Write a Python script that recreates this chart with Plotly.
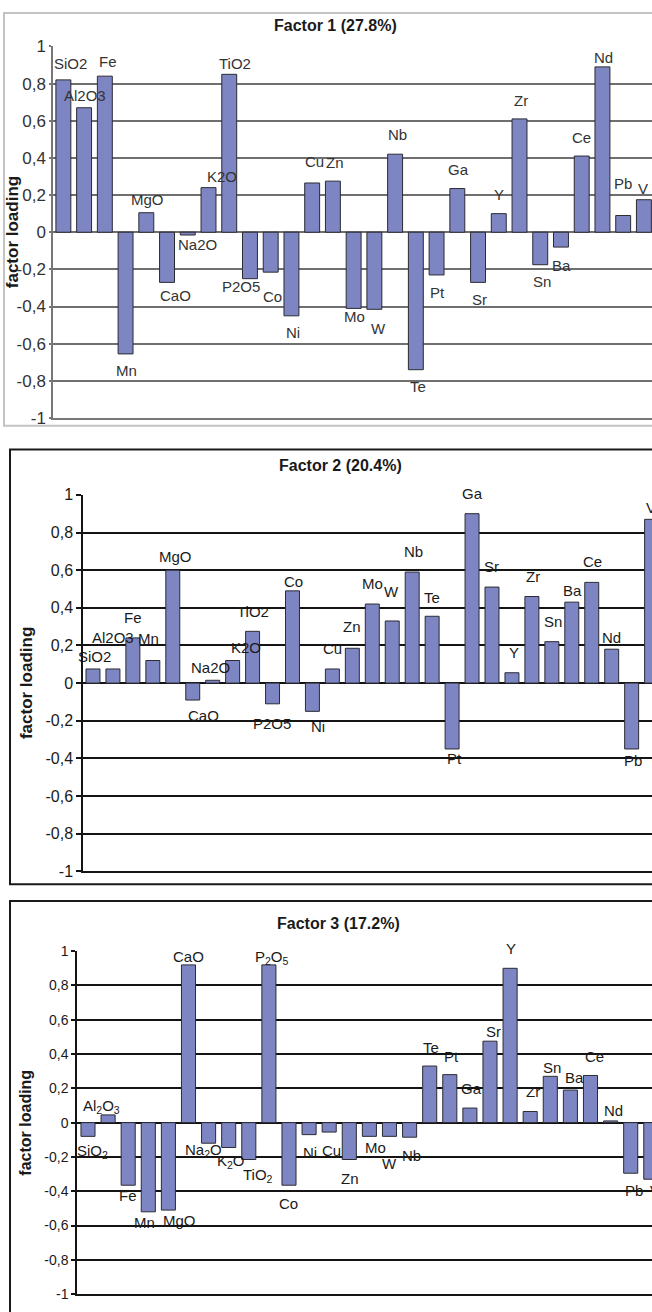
import plotly.graph_objects as go

# Element / oxide names (same order in all three factors)
elements = ['SiO2', 'Al2O3', 'Fe', 'Mn', 'MgO', 'CaO', 'Na2O', 'K2O', 'TiO2', 'P2O5',
            'Co', 'Ni', 'Cu', 'Zn', 'Mo', 'W', 'Nb', 'Te', 'Pt', 'Ga', 'Sr', 'Y',
            'Zr', 'Sn', 'Ba', 'Ce', 'Nd', 'Pb', 'V']

# Labels written with chemical subscripts (third chart)
elements_sub = ['SiO<sub>2</sub>', 'Al<sub>2</sub>O<sub>3</sub>', 'Fe', 'Mn', 'MgO', 'CaO',
                'Na<sub>2</sub>O', 'K<sub>2</sub>O', 'TiO<sub>2</sub>', 'P<sub>2</sub>O<sub>5</sub>',
                'Co', 'Ni', 'Cu', 'Zn', 'Mo', 'W', 'Nb', 'Te', 'Pt', 'Ga', 'Sr', 'Y',
                'Zr', 'Sn', 'Ba', 'Ce', 'Nd', 'Pb', 'V']

# Factor loadings
factor1 = [0.82, 0.67, 0.84, -0.655, 0.105, -0.27, -0.015, 0.24, 0.85, -0.25,
           -0.215, -0.45, 0.265, 0.275, -0.41, -0.415, 0.42, -0.74, -0.23, 0.235,
           -0.27, 0.10, 0.61, -0.175, -0.08, 0.41, 0.89, 0.09, 0.175]
factor2 = [0.075, 0.075, 0.24, 0.12, 0.60, -0.09, 0.015, 0.12, 0.275, -0.11,
           0.49, -0.15, 0.075, 0.185, 0.42, 0.33, 0.59, 0.355, -0.35, 0.90,
           0.51, 0.055, 0.46, 0.22, 0.43, 0.535, 0.18, -0.35, 0.87]
factor3 = [-0.08, 0.045, -0.365, -0.52, -0.51, 0.92, -0.12, -0.145, -0.215, 0.92,
           -0.365, -0.07, -0.055, -0.215, -0.08, -0.08, -0.085, 0.33, 0.28, 0.085,
           0.475, 0.90, 0.065, 0.27, 0.19, 0.275, 0.01, -0.295, -0.33]

titles = ['Factor 1 (27.8%)', 'Factor 2 (20.4%)', 'Factor 3 (17.2%)']
axis_title = 'factor loading'

tick_vals = [-1, -0.8, -0.6, -0.4, -0.2, 0, 0.2, 0.4, 0.6, 0.8, 1]
tick_text = ['-1', '-0,8', '-0,6', '-0,4', '-0,2', '0', '0,2', '0,4', '0,6', '0,8', '1']

# Label nudges in pixels (dx right, dy down) from the bar end
nudge1 = [(7, -16), (1, -12), (3, -15), (1, 17), (1, -13), (8, 13), (10, 9), (13, -11), (6, -11),
          (-9, 8), (2, 24), (2, 17), (2, -21), (2, -19), (1, 8), (4, 19), (2, -20), (2, 17),
          (1, 18), (1, -19), (1, 17), (0, -19), (1, -18), (2, 17), (1, 18), (0, -19), (1, -9),
          (0, -32), (-1, -11)]
nudge2 = [(2, -12), (0, -31), (0, -20), (-4, -22), (3, -14), (11, 15), (-2, -13), (13, -13),
          (0, -20), (-1, 20), (1, -9), (6, 15), (0, -20), (0, -22), (0, -21), (-1, -29),
          (1, -21), (0, -19), (2, 10), (0, -20), (0, -21), (2, -20), (1, -20), (1, -20),
          (1, -12), (1, -21), (0, -12), (1, 12), (-1, -12)]
nudge3 = [(5, 15), (-7, -8), (0, 10), (-4, 11), (11, 10), (0, -8), (-5, 7), (2, 14), (9, 16),
          (3, -7), (0, 18), (1, 18), (2, 18), (1, 19), (6, 11), (0, 27), (2, 18), (1, -19),
          (2, -18), (2, -20), (4, -10), (1, -20), (3, -20), (2, -9), (4, -13), (4, -19),
          (3, -10), (3, 17), (4, 11)]

W, H = 652, 1312
FONT = 'Liberation Sans, Arial, Helvetica, sans-serif'
BAR_FILL = '#7e85c3'
BAR_EDGE = '#2b2b33'


def fx(p):
    return p / W


def fy(p):
    return 1 - p / H


# Per-panel layout (pixel geometry)
panels = [
    dict(values=factor1, labels=elements, nudges=nudge1, left=53, top=38, bottom=415,
         xrange=[-0.5, 28.39], width=0.72, grid='#6f6f6f', gridw=1.6, axis='#777777',
         tickfs=17, labelfs=15, ticklen=2, title_xy=(335, 17), ytitle_x=12, ytitle_fs=17,
         label_color='#333333', tick_color='#333333',
         border=dict(x0=4, y0=4, x1=700, y1=423, color='#c4c4c4', width=2)),
    dict(values=factor2, labels=elements, nudges=nudge2, left=83, top=493, bottom=875,
         xrange=[-0.5, 28.02], width=0.70, grid='#141414', gridw=2.2, axis='#141414',
         tickfs=16, labelfs=15, ticklen=5, title_xy=(340, 463), ytitle_x=26, ytitle_fs=17,
         label_color='#1a1a1a', tick_color='#1a1a1a',
         border=dict(x0=10, y0=447, x1=700, y1=888, color='#1a1a1a', width=2)),
    dict(values=factor3, labels=elements_sub, nudges=nudge3, left=77, top=956, bottom=1304,
         xrange=[-0.547, 28.06], width=0.70, grid='#141414', gridw=2.2, axis='#141414',
         tickfs=14, labelfs=15, ticklen=4, title_xy=(338, 928), ytitle_x=26, ytitle_fs=16,
         label_color='#1a1a1a', tick_color='#1a1a1a',
         border=dict(x0=10, y0=905, x1=700, y1=1400, color='#1a1a1a', width=2)),
]

fig = go.Figure()
annotations = []
shapes = []
layout_axes = {}

for k, p in enumerate(panels, start=1):
    xa = 'x' if k == 1 else f'x{k}'
    ya = 'y' if k == 1 else f'y{k}'
    fig.add_trace(go.Bar(
        x=elements, y=p['values'], xaxis=xa, yaxis=ya, width=p['width'],
        marker=dict(color=BAR_FILL, line=dict(color=BAR_EDGE, width=1)),
        showlegend=False, hoverinfo='x+y'))

    layout_axes['xaxis' if k == 1 else f'xaxis{k}'] = dict(
        domain=[fx(p['left']), 1], range=p['xrange'], anchor=ya,
        type='category', showticklabels=False, ticks='', showgrid=False,
        zeroline=False, showline=True, linecolor=p['axis'], linewidth=2)
    layout_axes['yaxis' if k == 1 else f'yaxis{k}'] = dict(
        domain=[fy(p['bottom']), fy(p['top'])], range=[-1, 1], anchor=xa,
        tickvals=tick_vals, ticktext=tick_text, ticks='outside', ticklen=p['ticklen'],
        tickcolor=p['axis'], tickwidth=1.5,
        tickfont=dict(family=FONT, size=p['tickfs'], color=p['tick_color']),
        showgrid=True, gridcolor=p['grid'], gridwidth=p['gridw'],
        zeroline=True, zerolinecolor=p['grid'], zerolinewidth=p['gridw'],
        showline=True, linecolor=p['axis'], linewidth=1.5)

    # bar labels
    for name, lab, v, (dx, dy) in zip(elements, p['labels'], p['values'], p['nudges']):
        annotations.append(dict(
            x=name, y=v, xref=xa, yref=ya, text=lab, showarrow=False,
            xanchor='center', yanchor='middle', xshift=dx, yshift=-dy,
            font=dict(family=FONT, size=p['labelfs'], color=p['label_color'])))

    # panel title
    tx, ty = p['title_xy']
    annotations.append(dict(
        x=fx(tx), y=fy(ty), xref='paper', yref='paper', text=f'<b>{titles[k - 1]}</b>',
        showarrow=False, xanchor='center', yanchor='middle',
        font=dict(family=FONT, size=16, color='#1a1a1a')))

    # y-axis title
    annotations.append(dict(
        x=fx(p['ytitle_x']), y=fy((p['top'] + p['bottom']) / 2), xref='paper', yref='paper',
        text=f'<b>{axis_title}</b>', textangle=-90, showarrow=False,
        xanchor='center', yanchor='middle',
        font=dict(family=FONT, size=p['ytitle_fs'], color='#1a1a1a')))

    b = p['border']
    shapes.append(dict(
        type='rect', xref='paper', yref='paper',
        x0=fx(b['x0']), x1=fx(b['x1']), y0=fy(b['y1']), y1=fy(b['y0']),
        line=dict(color=b['color'], width=b['width']), fillcolor='rgba(0,0,0,0)',
        layer='below'))

fig.update_layout(
    width=W, height=H, autosize=False,
    margin=dict(l=0, r=0, t=0, b=0, pad=0),
    paper_bgcolor='white', plot_bgcolor='white',
    bargap=0.28, annotations=annotations, shapes=shapes,
    font=dict(family=FONT),
    **layout_axes)

fig.write_html('out.html')
